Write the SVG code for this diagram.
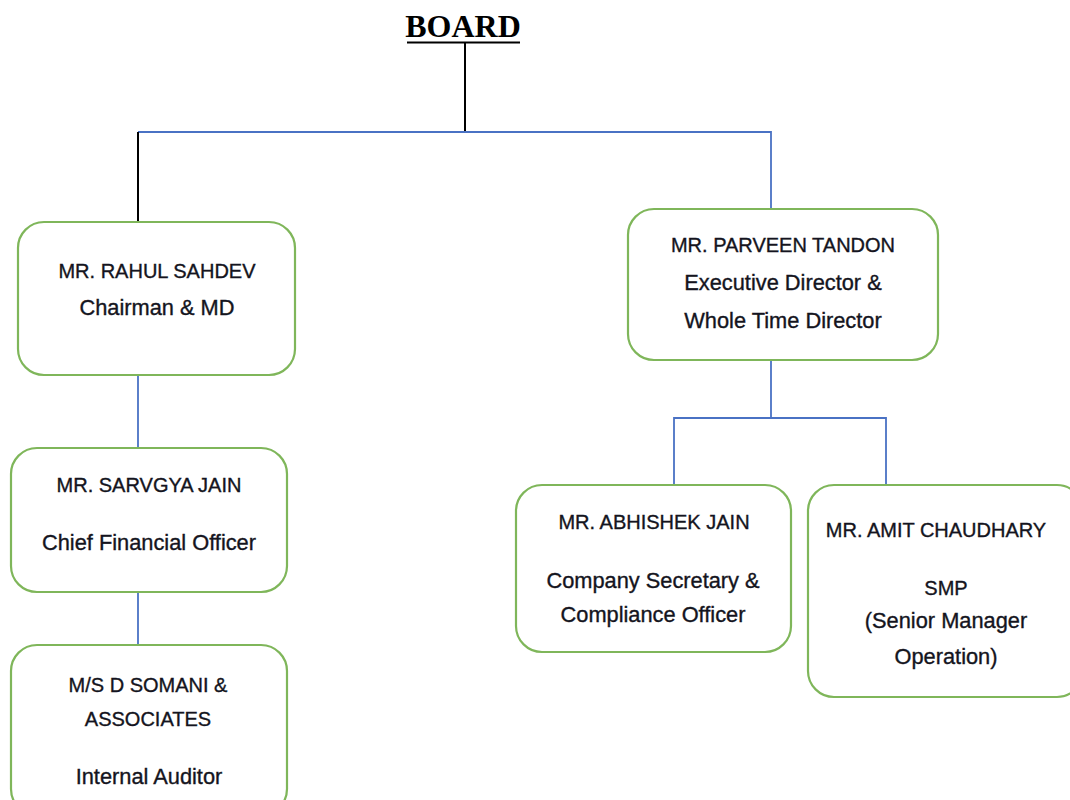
<svg xmlns="http://www.w3.org/2000/svg" width="1070" height="800" viewBox="0 0 1070 800">
<style>
.box{fill:#fff;stroke:#7fb65a;stroke-width:2.2}
.t{font-family:"Liberation Sans",Arial,sans-serif;font-size:20px;fill:#141420;stroke:#141420;stroke-width:0.35;text-anchor:middle}
.m{font-size:21.8px}
.blue{stroke:#4a72c4;stroke-width:1.8;fill:none}
.blk{stroke:#000;stroke-width:2;fill:none}
</style>
<rect width="1070" height="800" fill="#fff"/>
<g id="board">
<text x="463" y="37" font-family="Liberation Serif,'Times New Roman',serif" font-weight="bold" font-size="32" text-anchor="middle" fill="#000">BOARD</text>
<line x1="407" y1="42.5" x2="520" y2="42.5" stroke="#000" stroke-width="2"/>
</g>
<g id="connectors">
<line class="blk" x1="465" y1="42" x2="465" y2="132"/>
<polyline class="blue" points="138,132 771,132 771,210"/>
<line class="blk" x1="138" y1="132" x2="138" y2="222"/>
<line class="blue" x1="138" y1="375" x2="138" y2="448"/>
<line class="blue" x1="138" y1="592" x2="138" y2="645"/>
<line class="blue" x1="771" y1="360" x2="771" y2="418"/>
<polyline class="blue" points="674,485 674,418 886,418 886,485"/>
</g>
<g id="rahul">
<rect class="box" x="18" y="222" width="277" height="153" rx="26"/>
<text class="t" x="157" y="278">MR. RAHUL SAHDEV</text>
<text class="t m" x="157" y="315">Chairman &amp; MD</text>
</g>
<g id="sarvgya">
<rect class="box" x="11" y="448" width="276" height="144" rx="26"/>
<text class="t" x="149" y="492">MR. SARVGYA JAIN</text>
<text class="t m" x="149" y="550">Chief Financial Officer</text>
</g>
<g id="somani">
<rect class="box" x="11" y="645" width="276" height="170" rx="26"/>
<text class="t" x="148" y="692" font-size="21">M/S D SOMANI &amp;</text>
<text class="t" x="148" y="726" font-size="19">ASSOCIATES</text>
<text class="t m" x="149" y="784">Internal Auditor</text>
</g>
<g id="parveen">
<rect class="box" x="628" y="209" width="310" height="151" rx="26"/>
<text class="t" x="783" y="252">MR. PARVEEN TANDON</text>
<text class="t m" x="783" y="290">Executive Director &amp;</text>
<text class="t m" x="783" y="328">Whole Time Director</text>
</g>
<g id="abhishek">
<rect class="box" x="516" y="485" width="275" height="167" rx="26"/>
<text class="t" x="654" y="529">MR. ABHISHEK JAIN</text>
<text class="t m" x="653" y="588">Company Secretary &amp;</text>
<text class="t m" x="653" y="622">Compliance Officer</text>
</g>
<g id="amit">
<rect class="box" x="808" y="485" width="275" height="212" rx="26"/>
<text class="t" x="936" y="537">MR. AMIT CHAUDHARY</text>
<text class="t" x="946" y="595">SMP</text>
<text class="t m" x="946" y="628">(Senior Manager</text>
<text class="t m" x="946" y="664">Operation)</text>
</g>
</svg>
